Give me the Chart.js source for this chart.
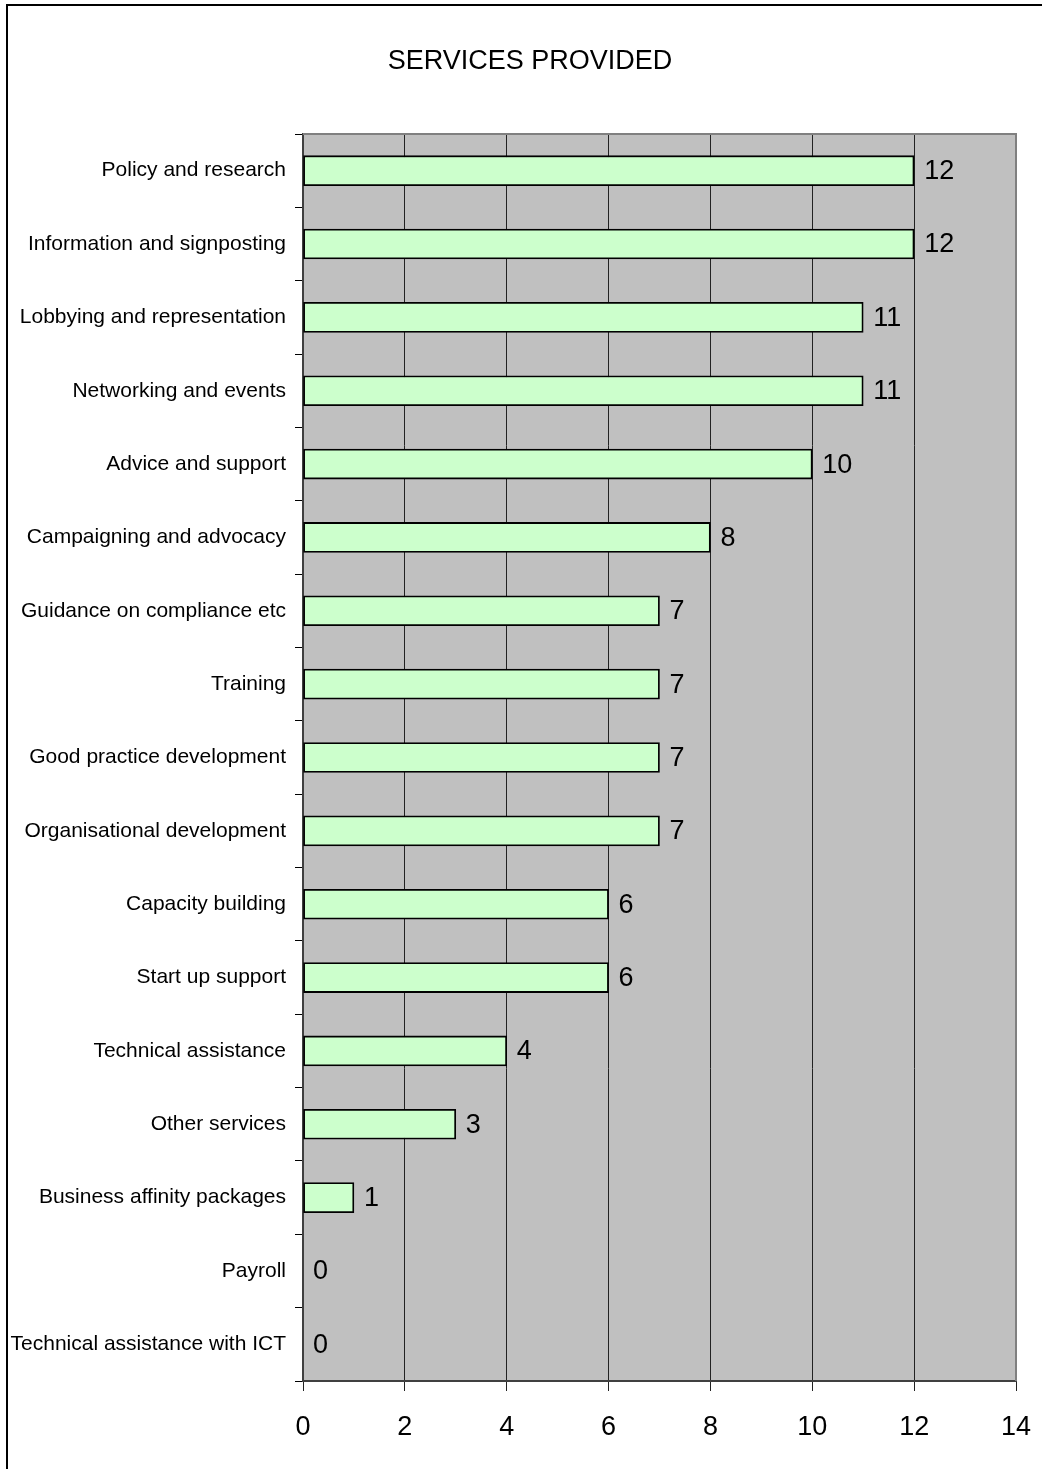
<!DOCTYPE html>
<html>
<head>
<meta charset="utf-8">
<script src="https://cdn.jsdelivr.net/npm/chart.js@4.4.0/dist/chart.umd.min.js"></script>
<style>
  html,body{margin:0;padding:0;background:#fff;}
  #wrap{width:1042px;height:1469px;}
</style>
</head>
<body>
<div id="wrap"><canvas id="barChart"></canvas></div>
<script>
const chartTitle='SERVICES PROVIDED';
const services=['Policy and research','Information and signposting','Lobbying and representation','Networking and events','Advice and support','Campaigning and advocacy','Guidance on compliance etc','Training','Good practice development','Organisational development','Capacity building','Start up support','Technical assistance','Other services','Business affinity packages','Payroll','Technical assistance with ICT'];
const counts=[12,12,11,11,10,8,7,7,7,7,6,6,4,3,1,0,0];
const xTicks=[0,2,4,6,8,10,12,14];

const FONT='"Liberation Sans", Arial, sans-serif';

// gray plot background, frame, title and value labels
const plotStuff={
  id:'plotStuff',
  beforeDraw(chart){
    const c=chart.ctx, a=chart.chartArea;
    c.save();
    c.fillStyle='#fff';
    c.fillRect(0,0,chart.width,chart.height);
    c.strokeStyle='#000';
    c.lineWidth=2;
    c.beginPath();
    c.moveTo(7,chart.height);c.lineTo(7,5);c.lineTo(chart.width,5);
    c.stroke();
    c.fillStyle='#c0c0c0';
    c.fillRect(a.left,a.top,a.right-a.left,a.bottom-a.top);
    c.fillStyle='#000';
    c.font='27px '+FONT;
    c.textAlign='center';
    c.textBaseline='middle';
    c.fillText(chartTitle,530,62);
    c.restore();
  },
  afterDatasetsDraw(chart){
    const c=chart.ctx, a=chart.chartArea;
    c.save();
    c.strokeStyle='#808080';
    c.lineWidth=2;
    c.beginPath();
    c.moveTo(a.left,a.top);c.lineTo(a.right,a.top);c.lineTo(a.right,a.bottom);
    c.stroke();
    c.fillStyle='#000';
    c.font='27px '+FONT;
    c.textBaseline='middle';
    c.textAlign='left';
    chart.getDatasetMeta(0).data.forEach((bar,i)=>{
      c.fillText(String(counts[i]),bar.x+10,bar.y+1);
    });
    c.restore();
  }
};

new Chart(document.getElementById('barChart'),{
  type:'bar',
  data:{
    labels:services,
    datasets:[{
      data:counts,
      backgroundColor:'#ccffcc',
      borderColor:'#000',
      borderWidth:1.8,
      borderSkipped:false,
      barThickness:30
    }]
  },
  options:{
    indexAxis:'y',
    responsive:true,
    maintainAspectRatio:false,
    animation:false,
    layout:{padding:{left:0,right:26,top:134,bottom:0}},
    plugins:{
      legend:{display:false},
      tooltip:{enabled:false},
      title:{display:false}
    },
    scales:{
      x:{
        min:0,max:14,
        afterBuildTicks(s){s.ticks=xTicks.map(v=>({value:v}));},
        afterFit(s){s.height=88;s.paddingLeft=0;s.paddingRight=0;},
        ticks:{color:'#000',padding:20,font:{family:FONT,size:27}},
        grid:{color:'#222',lineWidth:1,tickLength:10,tickColor:'#222'},
        border:{color:'#404040',width:2}
      },
      y:{
        afterFit(s){s.width=303;s.paddingTop=0;s.paddingBottom=0;},
        ticks:{color:'#000',padding:9,font:{family:FONT,size:21}},
        grid:{offset:true,drawOnChartArea:false,tickLength:8,color:'#000'},
        border:{color:'#404040',width:2}
      }
    }
  },
  plugins:[plotStuff]
});
</script>
</body>
</html>
